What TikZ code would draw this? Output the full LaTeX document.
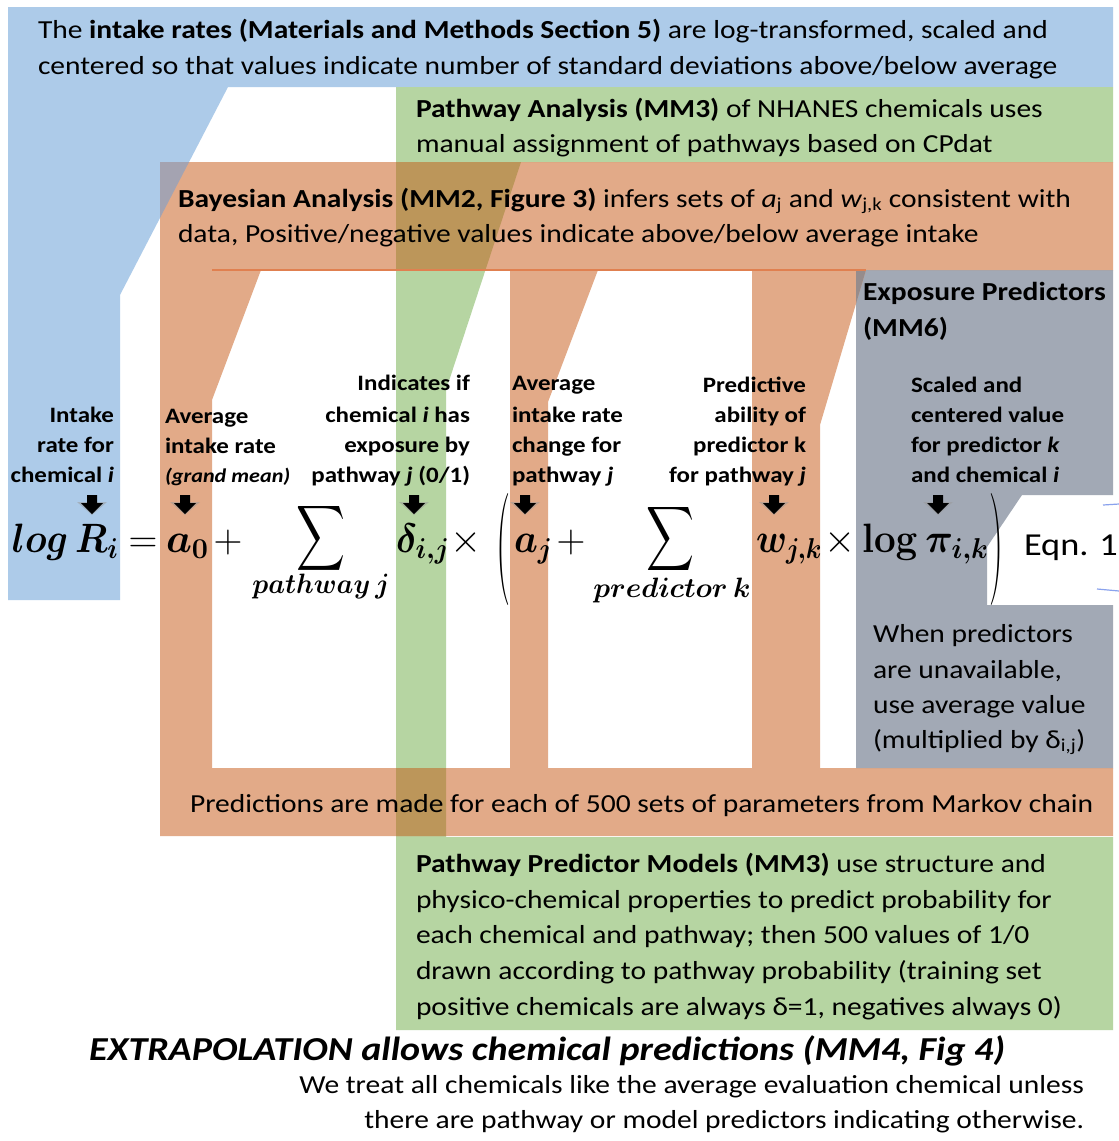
\RequirePackage{fix-cm}
\documentclass[tikz,border=0pt]{standalone}
\usepackage[no-math]{fontspec}
\setmainfont{Carlito}[FakeStretch=1.135]
\usepackage{amsmath}
\usepackage{graphicx}
\definecolor{cblue}{RGB}{173,203,233}
\definecolor{cgreen}{RGB}{182,213,162}
\definecolor{corange}{RGB}{226,170,136}
\definecolor{cgray}{RGB}{162,169,181}
\definecolor{colive}{RGB}{188,150,90}
\definecolor{cbo}{RGB}{164,163,177}
\definecolor{cgo}{RGB}{150,140,140}
\definecolor{cline}{RGB}{224,128,80}
\tikzset{
  tx/.style={anchor=base west, inner sep=0, outer sep=0, font=\fontsize{26}{30}\selectfont},
  lblL/.style={anchor=base west, inner sep=0, outer sep=0, font=\fontsize{22}{25}\selectfont\bfseries},
  lblR/.style={anchor=base east, inner sep=0, outer sep=0, font=\fontsize{22}{25}\selectfont\bfseries},
  eqbase/.style={anchor=base west, inner sep=0, outer sep=0, font=\fontsize{41}{44}\selectfont},
  eqctr/.style={anchor=base, inner sep=0, outer sep=0, font=\fontsize{40}{44}\selectfont},
  subtx/.style={anchor=base, inner sep=0, outer sep=0, font=\fontsize{28}{30}\selectfont},
  bigsym/.style={inner sep=0, outer sep=0, font=\fontsize{20}{20}\selectfont},
  pics/darr/.style={code={
    \fill[black!40, opacity=0.5] (-15,7) -- (15,7) -- (0,20) -- cycle;
    \fill[black] (-5,0) -- (5,0) -- (5,8) -- (11,8) -- (0,19) -- (-11,8) -- (-5,8) -- cycle;
  }}
}
\newcommand\BM[1]{{\boldmath$#1$}}
\def\pathBlue{(8,7) -- (1113,7) -- (1113,87) -- (228,87) -- (120,295) -- (120,600) -- (8,600) -- cycle}
\def\pathGreen{(396,87) -- (1113,87) -- (1113,162) -- (521,162) -- (446,390) -- (446,837) -- (1113,837) -- (1113,1030) -- (396,1030) -- cycle}
\def\pathOrange{(160,162) -- (1113,162) -- (1113,270) -- (160,270) -- cycle
  (160,270) -- (261,270) -- (212,400) -- (212,768) -- (160,768) -- cycle
  (510,270) -- (598,270) -- (548,402) -- (548,768) -- (510,768) -- cycle
  (752,270) -- (866,270) -- (820,425) -- (820,768) -- (752,768) -- cycle
  (160,768) -- (1113,768) -- (1113,836) -- (160,836) -- cycle}
\def\pathGray{(856,270) -- (1113,270) -- (1113,495) -- (1022,495) -- (987,547) -- (987,605) -- (1113,605) -- (1113,768) -- (856,768) -- cycle}
\begin{document}
\begin{tikzpicture}[x=1pt,y=-1pt]
\useasboundingbox (0,0) rectangle (1119,1141);
\fill[white] (0,0) rectangle (1119,1141);
% regions
\fill[cblue] \pathBlue;
\fill[cgreen] \pathGreen;
\fill[cgray] \pathGray;
\fill[corange] \pathOrange;
\begin{scope}\clip \pathBlue; \fill[cbo] \pathOrange; \end{scope}
\begin{scope}\clip \pathGreen; \fill[colive] \pathOrange; \end{scope}
\begin{scope}\clip \pathGray; \fill[cgo] \pathOrange; \end{scope}
\draw[cline, line width=1.2pt] (212,270) -- (866,270);
\draw[cblue!80!blue, line width=1.2pt] (1103,505) -- (1119,504);
\draw[cblue!80!blue, line width=1.2pt] (1097,589) -- (1119,591);

% top texts
\node[tx] (b1) at (38,38) {The \textbf{intake rates (Materials and Methods Section 5)} are log-transformed, scaled and};
\node[tx] (b2) at (38,74) {centered so that values indicate number of standard deviations above/below average};
\node[tx] (g1) at (416,117) {\textbf{Pathway Analysis (MM3)} of NHANES chemicals uses};
\node[tx] (g2) at (416,152) {manual assignment of pathways based on CPdat};
\node[tx] (o1) at (178,207) {\textbf{Bayesian Analysis (MM2, Figure 3)} infers sets of \textit{a}\textsubscript{j} and \textit{w}\textsubscript{j,k} consistent with};
\node[tx] (o2) at (178,242) {data, Positive/negative values indicate above/below average intake};
\node[tx] (e1) at (863,300) {\textbf{Exposure Predictors}};
\node[tx] (e2) at (863,336) {\textbf{(MM6)}};

% labels
\node[lblR] (l1a) at (114,422) {Intake};
\node[lblR] (l1b) at (114,452) {rate for};
\node[lblR] (l1c) at (114,482) {chemical \textit{i}};
\node[lblL] (l2a) at (165,423) {Average};
\node[lblL] (l2b) at (165,453) {intake rate};
\node[lblL, font=\fontsize{19.5}{22}\selectfont\bfseries\itshape] (l2c) at (165,482) {(grand mean)};
\node[lblR] (l3a) at (470,390) {Indicates if};
\node[lblR] (l3b) at (470,422) {chemical \textit{i} has};
\node[lblR] (l3c) at (470,452) {exposure by};
\node[lblR] (l3d) at (470,482) {pathway \textit{j} (0/1)};
\node[lblL] (l4a) at (512,390) {Average};
\node[lblL] (l4b) at (512,422) {intake rate};
\node[lblL] (l4c) at (512,452) {change for};
\node[lblL] (l4d) at (512,482) {pathway \textit{j}};
\node[lblR] (l5a) at (806,392) {Predictive};
\node[lblR] (l5b) at (806,422) {ability of};
\node[lblR] (l5c) at (806,452) {predictor k};
\node[lblR] (l5d) at (806,482) {for pathway \textit{j}};
\node[lblL] (l6a) at (911,392) {Scaled and};
\node[lblL] (l6b) at (911,422) {centered value};
\node[lblL] (l6c) at (911,452) {for predictor \textit{k}};
\node[lblL] (l6d) at (911,482) {and chemical \textit{i}};

% arrows
\pic at (92,495) {darr};
\pic at (185,495) {darr};
\pic at (414,495) {darr};
\pic at (525,495) {darr};
\pic at (774,495) {darr};
\pic at (938,495) {darr};

% equation
\node[eqbase] (qlog) at (12,552) {\scalebox{0.9}[1]{\BM{log\,R_i}}};
\node[eqctr] (qeq) at (143,552) {$=$};
\node[eqbase] (qa0) at (166,552) {\BM{a_0}};
\node[eqctr] (qp1) at (228,552) {$+$};
\node[bigsym] (qs1) at (320.5,538.5) {\resizebox*{49pt}{73pt}{$\displaystyle\sum$}};
\node[subtx] (qpw) at (321,593) {\scalebox{0.95}[1]{\BM{pathway\,j}}};
\node[eqbase] (qd) at (396,552) {\scalebox{0.92}[1]{\BM{\delta_{i,j}}}};
\node[eqctr] (qt1) at (466,552) {$\times$};
\node[bigsym] (qlp) at (503,549) {\resizebox*{14pt}{112pt}{$($}};
\node[eqbase] (qaj) at (514,552) {\scalebox{0.92}[1]{\BM{a_j}}};
\node[eqctr] (qp2) at (571,552) {$+$};
\node[bigsym] (qs2) at (670,539) {\resizebox*{48pt}{72pt}{$\displaystyle\sum$}};
\node[subtx] (qpk) at (672,597) {\BM{predictor\,k}};
\node[eqbase] (qw) at (756,552) {\scalebox{0.88}[1]{\BM{w_{j,k}}}};
\node[eqctr] (qt2) at (840,552) {$\times$};
\node[eqbase] (qlog2) at (862,552) {\scalebox{0.94}[1]{\BM{\mathbf{log}\,\pi_{i,k}}}};
\node[bigsym] (qrp) at (996,549) {\resizebox*{14pt}{112pt}{$)$}};
\node[tx, font=\fontsize{32}{36}\selectfont] (qeqn) at (1024,555) {Eqn. 1};

% gray lower
\node[tx] (u1) at (873,642) {When predictors};
\node[tx] (u2) at (873,678) {are unavailable,};
\node[tx] (u3) at (873,713) {use average value};
\node[tx] (u4) at (873,748) {(multiplied by δ\textsubscript{i,j})};

% bottom band
\node[tx] (pm) at (190,812) {Predictions are made for each of 500 sets of parameters from Markov chain};

% green bottom
\node[tx] (p1) at (416,872) {\textbf{Pathway Predictor Models (MM3)} use structure and};
\node[tx] (p2) at (416,908) {physico-chemical properties to predict probability for};
\node[tx] (p3) at (416,943) {each chemical and pathway; then 500 values of 1/0};
\node[tx] (p4) at (416,979) {drawn according to pathway probability (training set};
\node[tx] (p5) at (416,1015) {positive chemicals are always δ=1, negatives always 0)};

\node[tx, font=\fontsize{33.5}{36}\selectfont\bfseries\itshape] (ex) at (89,1060) {EXTRAPOLATION allows chemical predictions (MM4, Fig 4)};
\node[tx, anchor=base east] (w1) at (1084,1093) {We treat all chemicals like the average evaluation chemical unless};
\node[tx, anchor=base east] (w2) at (1084,1128) {there are pathway or model predictors indicating otherwise.};
\end{tikzpicture}
\end{document}
